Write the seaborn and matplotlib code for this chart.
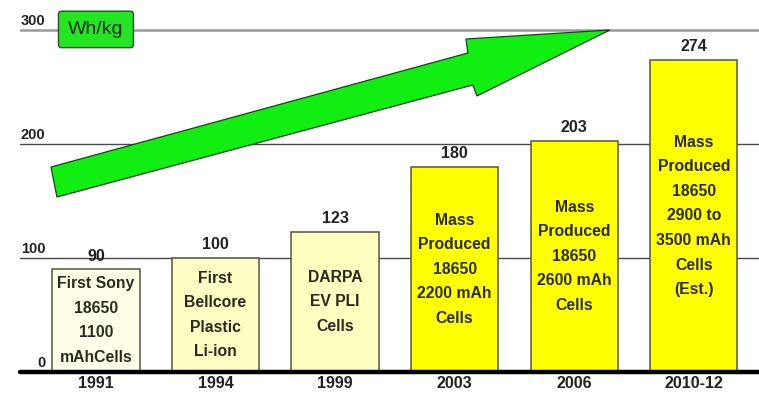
import matplotlib
matplotlib.use("Agg")
import matplotlib.pyplot as plt
from matplotlib.patches import Polygon
import matplotlib.transforms as mtransforms
import seaborn as sns
import pandas as pd

# Specific energy of 18650-class lithium-ion cells by year
years = ["1991", "1994", "1999", "2003", "2006", "2010-12"]
energy_whkg = [90, 100, 123, 180, 203, 274]
descriptions = [
    "First Sony\n18650\n1100\nmAhCells",
    "First\nBellcore\nPlastic\nLi-ion",
    "DARPA\nEV PLI\nCells",
    "Mass\nProduced\n18650\n2200 mAh\nCells",
    "Mass\nProduced\n18650\n2600 mAh\nCells",
    "Mass\nProduced\n18650\n2900 to\n3500 mAh\nCells\n(Est.)",
]
bar_colors = ["#fdfde8", "#ffffc4", "#ffffc0", "#ffff00", "#ffff00", "#ffff00"]
y_ticks = [0, 100, 200, 300]
unit_label = "Wh/kg"

sns.set_theme(style="white")
plt.rcParams["font.family"] = ["Liberation Sans Narrow", "Liberation Sans", "DejaVu Sans"]

df = pd.DataFrame({"year": years, "energy": energy_whkg})

fig = plt.figure(figsize=(7.59, 3.94), dpi=100)
ax = fig.add_axes([20 / 759, 22 / 394, 739 / 759, 372 / 394])

# Horizontal reference lines drawn beneath the bars
for v in y_ticks[1:]:
    if v == 300:
        ax.axhline(v, color="#9a9a9a", lw=1.8, zorder=0)
    else:
        ax.axhline(v, color="#4a4a4a", lw=1.0, zorder=0)

sns.barplot(data=df, x="year", y="energy", hue="year", palette=bar_colors,
            order=years, width=0.73, legend=False, ax=ax, zorder=2,
            edgecolor="#55553a", linewidth=1.1, saturation=1)

ax.set_xlim(-0.635, 5.545)
ax.set_ylim(0, 326.3)

# Baseline
ax.axhline(0, color="black", lw=3.2, zorder=3, clip_on=False)

text_color = "#222222"
for i, (val, desc) in enumerate(zip(energy_whkg, descriptions)):
    ax.annotate(str(val), xy=(i, val), xytext=(0, 4), textcoords="offset points",
                ha="center", va="bottom", fontsize=11.5, fontweight="bold",
                color=text_color, zorder=5)
    ax.text(i, val / 2, desc, ha="center", va="center", fontsize=11.3,
            fontweight="bold", color="#2a2a20", linespacing=1.8, zorder=5)

# Y-axis values sit just above their lines at the left edge
blend = mtransforms.blended_transform_factory(ax.transAxes, ax.transData)
for v in y_ticks:
    ax.text(0.034, v + 2, str(v), transform=blend, ha="right", va="bottom",
            fontsize=10.5, fontweight="bold", color=text_color, zorder=5)

ax.set_yticks([])
ax.set_xlabel("")
ax.set_ylabel("")
ax.tick_params(axis="x", length=0, pad=3)
for lab in ax.get_xticklabels():
    lab.set_fontsize(11.5)
    lab.set_fontweight("bold")
    lab.set_color(text_color)
for s in ax.spines.values():
    s.set_visible(False)

# Large green trend arrow rising toward 300 Wh/kg
arrow_pts = [(-0.376, 179.8), (3.110, 279.8), (3.094, 292.1), (4.298, 300.0),
             (3.186, 242.1), (3.152, 251.8), (-0.326, 153.5)]
ax.add_patch(Polygon(arrow_pts, closed=True, facecolor="#11ee11",
                     edgecolor="#1f3f1f", lw=0.9, zorder=4))

# Unit badge
ax.text(0, 300.5, unit_label, ha="center", va="center", fontsize=14,
        family=["Liberation Sans", "DejaVu Sans"], color="#142814", zorder=6,
        bbox=dict(boxstyle="round,pad=0.5,rounding_size=0.15",
                  facecolor="#22e622", edgecolor="#2a4a2a", lw=1.0))

fig.savefig("out.png", dpi=100, facecolor="white")
